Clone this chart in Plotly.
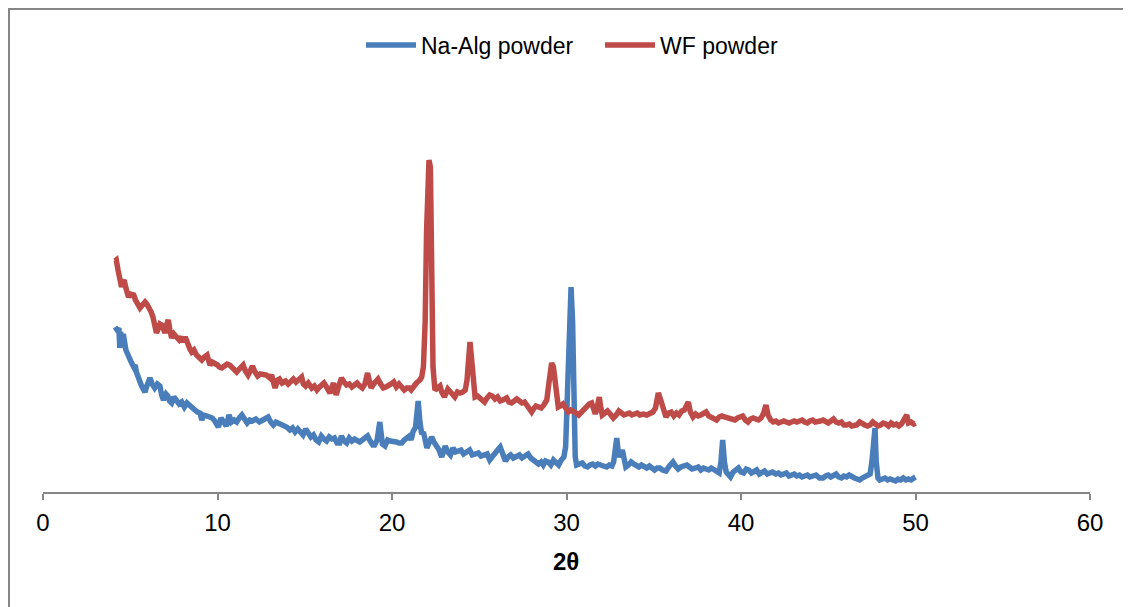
import plotly.graph_objects as go

# Na-Alg powder (blue)
na_x = [4.13,4.25,4.35,4.40,4.45,4.52,4.60,4.65,4.75,4.85,4.95,5.08,5.2,5.28,5.35,5.45,5.56,5.65,5.75,5.85,5.95,6.05,6.13,6.25,6.4,6.55,6.7,6.8,6.9,7.05,7.15,7.25,7.37,7.5,7.65,7.8,7.95,8.1,8.25,8.4,8.55,8.7,8.85,9.0,9.1,9.2,9.4,9.55,9.7,9.85,10.05,10.2,10.35,10.5,10.66,10.8,10.95,11.1,11.25,11.4,11.55,11.7,11.85,12.0,12.2,12.4,12.6,12.75,12.9,13.05,13.2,13.35,13.5,13.65,13.8,13.96,14.15,14.3,14.45,14.6,14.75,14.9,15.05,15.2,15.35,15.5,15.65,15.8,15.95,16.1,16.25,16.4,16.55,16.7,16.85,17.0,17.1,17.25,17.4,17.55,17.7,17.85,18.0,18.15,18.3,18.45,18.6,18.75,18.9,19.0,19.15,19.3,19.45,19.6,19.75,19.9,20.1,20.25,20.4,20.56,20.7,20.85,21.0,21.1,21.2,21.35,21.5,21.6,21.7,21.8,21.9,22.0,22.1,22.27,22.4,22.55,22.7,22.85,22.95,23.05,23.2,23.35,23.5,23.65,23.8,23.95,24.1,24.3,24.45,24.6,24.8,24.95,25.1,25.3,25.45,25.6,25.75,25.9,26.05,26.2,26.35,26.5,26.65,26.8,26.95,27.1,27.3,27.45,27.6,27.8,27.95,28.1,28.25,28.4,28.55,28.67,28.8,28.95,29.1,29.25,29.4,29.55,29.7,29.85,29.95,30.05,30.15,30.26,30.35,30.42,30.5,30.58,30.75,30.9,31.05,31.2,31.35,31.5,31.65,31.8,31.95,32.1,32.3,32.45,32.6,32.7,32.8,32.88,32.95,33.05,33.2,33.3,33.4,33.55,33.7,33.85,34.0,34.15,34.3,34.45,34.6,34.75,34.9,35.05,35.2,35.35,35.5,35.7,35.9,36.1,36.25,36.4,36.55,36.75,36.9,37.05,37.2,37.4,37.55,37.7,37.85,38.0,38.15,38.3,38.45,38.6,38.75,38.85,38.95,39.05,39.15,39.3,39.4,39.55,39.7,39.85,40.0,40.15,40.3,40.45,40.6,40.75,40.9,41.05,41.2,41.35,41.5,41.65,41.8,42.0,42.15,42.3,42.45,42.6,42.75,42.9,43.05,43.2,43.35,43.5,43.65,43.8,43.95,44.1,44.3,44.5,44.7,44.85,45.0,45.15,45.3,45.45,45.6,45.75,45.9,46.05,46.2,46.35,46.5,46.65,46.8,46.95,47.1,47.25,47.4,47.5,47.6,47.68,47.75,47.85,47.95,48.1,48.25,48.4,48.55,48.7,48.85,49.0,49.15,49.3,49.45,49.6,49.75,49.9,50.0]
na_y = [165,162,164,144,160,150,158,149,142,138,133,129,125,127,120,114,109,106,103,100,106,111,114,108,104,108,106,97,92,98,96,91,89,95,92,88,90,85,89,86,84,82,80,79,72,77,76,75,74,71,65,74,71,66,77,70,72,70,74,77,73,69,72,71,73,70,72,74,75,70,67,70,69,68,66,65,62,64,60,63,60,57,63,59,55,57,52,50,56,53,51,55,53,54,49,49,56,51,49,54,51,53,52,50,52,54,56,51,47,47,52,70,48,46,52,51,51,50,49,49,52,54,56,52,60,65,91,70,58,60,52,44,48,55,50,47,42,35,43,46,40,37,44,40,41,42,38,40,42,37,38,39,36,37,38,32,36,38,42,45,37,31,35,37,34,36,37,34,36,38,34,31,30,28,30,27,31,30,27,32,30,27,32,35,45,100,180,205,170,70,35,27,28,29,26,25,27,28,26,28,27,26,25,27,26,30,45,54,42,35,42,30,25,27,30,28,26,25,27,26,24,26,23,22,24,24,22,21,26,30,26,23,25,26,27,25,23,24,25,22,24,23,22,24,22,21,19,30,52,30,20,17,15,20,23,24,20,19,23,22,19,20,22,18,19,21,18,19,20,18,19,17,18,19,16,17,18,16,17,15,16,17,15,16,17,14,14,16,17,15,16,18,15,14,16,15,17,15,14,13,12,14,15,16,18,30,62,64,30,14,12,13,14,12,13,12,11,13,12,14,12,13,12,14,15]

# WF powder (red)
wf_x = [4.13,4.2,4.3,4.4,4.5,4.58,4.65,4.75,4.9,5.0,5.1,5.2,5.3,5.45,5.56,5.7,5.85,5.95,6.1,6.2,6.3,6.4,6.5,6.6,6.7,6.8,6.9,7.0,7.1,7.18,7.27,7.37,7.5,7.65,7.8,7.93,8.05,8.15,8.3,8.42,8.52,8.65,8.8,8.95,9.1,9.25,9.4,9.5,9.57,9.7,9.85,10.0,10.1,10.24,10.4,10.55,10.7,10.85,11.0,11.1,11.25,11.4,11.47,11.6,11.75,11.9,12.0,12.15,12.3,12.45,12.6,12.8,13.0,13.1,13.2,13.3,13.45,13.55,13.7,13.9,14.05,14.2,14.35,14.5,14.65,14.82,14.92,15.05,15.2,15.4,15.55,15.7,15.85,16.0,16.1,16.25,16.45,16.55,16.65,16.75,16.8,16.95,17.1,17.25,17.4,17.55,17.7,17.85,18.0,18.15,18.3,18.45,18.6,18.72,18.8,18.95,19.1,19.2,19.35,19.5,19.65,19.8,19.95,20.1,20.25,20.4,20.55,20.7,20.85,21.0,21.1,21.25,21.4,21.6,21.7,21.8,21.9,21.98,22.05,22.12,22.2,22.27,22.35,22.46,22.6,22.75,22.85,23.0,23.1,23.2,23.35,23.5,23.6,23.75,23.9,24.05,24.2,24.3,24.4,24.47,24.55,24.65,24.76,24.9,25.05,25.2,25.3,25.45,25.6,25.75,25.9,26.05,26.2,26.35,26.57,26.7,26.85,27.0,27.15,27.3,27.45,27.6,27.75,27.9,28.0,28.1,28.25,28.4,28.55,28.7,28.87,29.0,29.1,29.15,29.25,29.35,29.45,29.53,29.65,29.8,29.95,30.1,30.25,30.4,30.55,30.7,30.85,31.0,31.15,31.3,31.44,31.55,31.65,31.75,31.88,31.95,32.05,32.2,32.35,32.5,32.68,32.85,33.0,33.15,33.3,33.45,33.6,33.75,33.9,34.05,34.2,34.4,34.6,34.8,34.95,35.1,35.26,35.4,35.55,35.7,35.85,36.0,36.15,36.3,36.45,36.6,36.75,36.9,36.98,37.1,37.25,37.4,37.55,37.7,37.85,38.0,38.15,38.3,38.45,38.6,38.75,38.9,39.05,39.2,39.35,39.5,39.65,39.8,39.95,40.1,40.25,40.4,40.55,40.7,40.85,41.0,41.15,41.3,41.43,41.55,41.7,41.85,42.0,42.15,42.3,42.45,42.6,42.75,42.9,43.05,43.2,43.35,43.5,43.65,43.8,43.95,44.1,44.25,44.4,44.55,44.7,44.85,45.0,45.15,45.3,45.45,45.6,45.75,45.9,46.05,46.2,46.35,46.5,46.63,46.8,46.95,47.1,47.25,47.4,47.55,47.7,47.85,48.0,48.15,48.3,48.45,48.6,48.75,48.9,49.05,49.2,49.35,49.5,49.6,49.75,49.9,50.0]
wf_y = [231,232,222,212,205,210,212,204,195,198,197,197,192,188,184,187,190,188,184,180,175,165,159,163,168,167,162,159,168,172,162,154,158,155,152,155,150,155,146,143,140,142,137,135,132,135,137,131,127,130,129,127,125,124,126,128,127,124,122,120,123,125,127,121,117,122,126,120,116,118,118,117,114,117,110,104,112,113,109,111,108,110,113,110,113,115,108,106,109,104,106,102,105,107,109,105,99,104,109,101,97,106,114,110,107,108,105,107,109,106,104,108,119,110,104,108,111,113,108,104,105,106,108,110,105,108,105,102,104,104,102,106,109,112,115,125,170,260,328,332,325,202,125,102,104,106,100,95,99,103,100,97,95,100,99,100,102,112,140,150,135,110,95,96,94,93,90,94,97,96,93,95,91,92,94,90,89,91,93,91,89,90,87,84,80,83,86,85,84,87,92,110,125,129,125,110,92,85,86,88,84,80,82,81,79,77,80,84,86,88,89,84,78,84,95,86,77,79,81,78,74,77,81,79,77,78,79,77,78,79,77,78,77,78,80,84,99,92,82,75,79,80,76,79,77,81,82,88,90,80,75,78,76,77,78,80,76,75,73,72,75,76,75,74,73,73,72,74,75,76,72,70,73,74,73,72,74,79,87,77,72,70,71,69,70,71,70,69,70,71,70,71,72,70,69,71,72,70,70,71,72,70,69,71,73,70,69,70,67,67,68,66,67,67,70,68,67,66,67,70,68,66,67,69,68,66,69,67,68,66,68,72,77,69,70,68,69]

x_ticks = [0, 10, 20, 30, 40, 50, 60]
series_names = ["Na-Alg powder", "WF powder"]
axis_title = "2θ"

BLUE = "#4A7EBB"
RED = "#BE4B48"
FONT = "Liberation Sans Narrow, Arial Narrow, Liberation Sans, Arial, sans-serif"

fig = go.Figure()
fig.add_trace(go.Scatter(x=na_x, y=na_y, mode="lines", name=series_names[0],
                         line=dict(color=BLUE, width=5.5)))
fig.add_trace(go.Scatter(x=wf_x, y=wf_y, mode="lines", name=series_names[1],
                         line=dict(color=RED, width=5.5)))

OFF = 8  # page body margin
W, H = 1131 - OFF, 607 - OFF
# plot area in screen pixels: x 43..1090, y 90..492
L = 43 - OFF
R = W - (1090 - OFF)
T = 90 - OFF
B = H - (492 - OFF)
pw, ph = W - L - R, H - T - B

def sx(p):  # screen x -> paper
    return (p - OFF - L) / pw

def sy(p):  # screen y -> paper
    return (H - B - (p - OFF)) / ph

fig.update_layout(
    width=W, height=H,
    margin=dict(l=L, r=R, t=T, b=B, pad=0),
    paper_bgcolor="white", plot_bgcolor="white",
    font=dict(family=FONT, size=23, color="#000000"),
    showlegend=True,
    legend=dict(orientation="h", x=sx(361), y=sy(45),
                xanchor="left", yanchor="middle",
                font=dict(family=FONT, size=23, color="#000000"),
                itemwidth=50, entrywidth=174, entrywidthmode="pixels",
                bgcolor="rgba(0,0,0,0)", borderwidth=0),
    xaxis=dict(range=[0, 60], tickvals=x_ticks, ticktext=[str(v) for v in x_ticks],
               showgrid=False, zeroline=False, showline=True,
               linecolor="#868686", linewidth=2,
               ticks="outside", ticklen=6, tickwidth=2, tickcolor="#868686",
               ticklabelstandoff=2,
               tickfont=dict(family=FONT, size=24, color="#000000")),
    yaxis=dict(range=[0, 402], visible=False, showgrid=False, zeroline=False),
    shapes=[dict(type="rect", xref="paper", yref="paper",
                 x0=sx(9), x1=sx(1129), y0=sy(650), y1=sy(9),
                 line=dict(color="#868686", width=2), fillcolor="rgba(0,0,0,0)",
                 layer="below")],
    annotations=[dict(text="<b>" + axis_title + "</b>", xref="paper", yref="paper",
                      x=sx(566), y=sy(561), xanchor="center", yanchor="middle",
                      showarrow=False,
                      font=dict(family=FONT, size=24, color="#000000"))],
)

fig.write_html("out.html")
